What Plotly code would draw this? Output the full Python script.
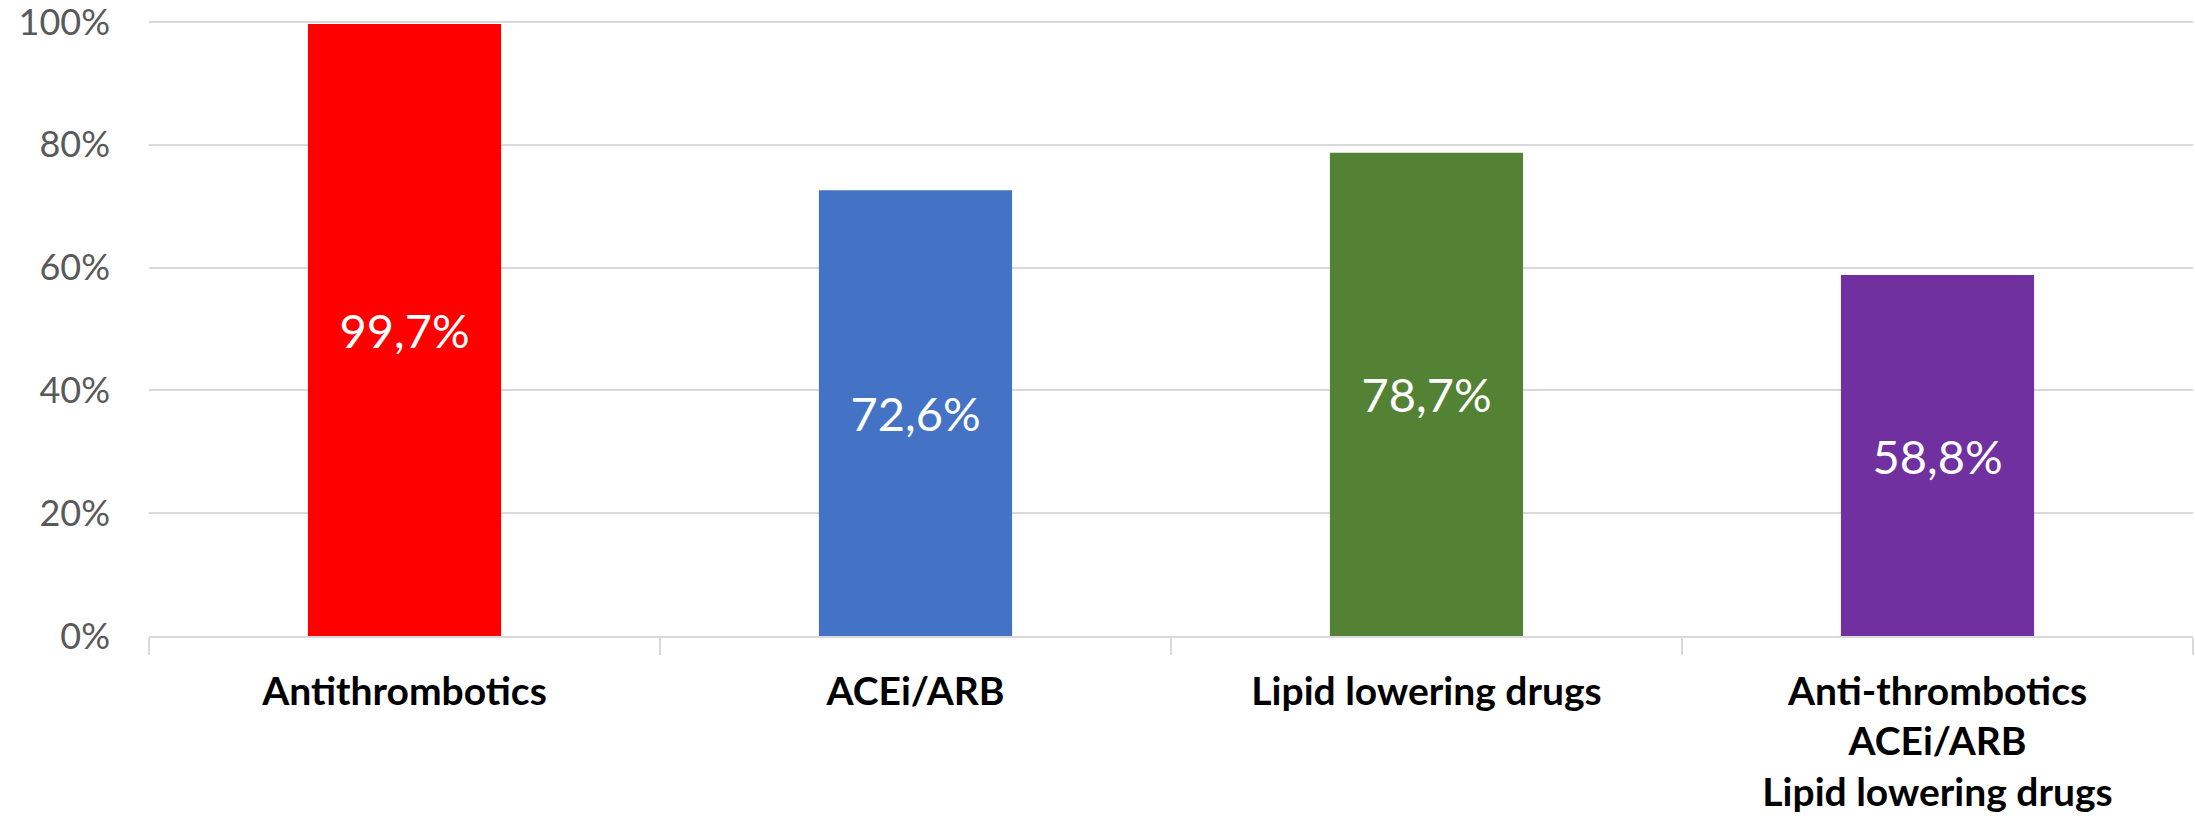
import plotly.graph_objects as go

# Share of patients on each drug class (%)
categories = [
    "Antithrombotics",
    "ACEi/ARB",
    "Lipid lowering drugs",
    "Anti-thrombotics<br>ACEi/ARB<br>Lipid lowering drugs",
]
values = [99.7, 72.6, 78.7, 58.8]
bar_colors = ["#FF0000", "#4472C4", "#548235", "#7030A0"]
y_ticks = [0, 20, 40, 60, 80, 100]
y_tick_labels = [f"{t}%" for t in y_ticks]

# Decimal comma labels, e.g. "99,7%"
labels = [f"{v:.1f}".replace(".", ",") + "%" for v in values]

fig = go.Figure(
    go.Bar(
        x=categories,
        y=values,
        marker=dict(color=bar_colors, line=dict(width=0)),
        text=labels,
        textposition="inside",
        insidetextanchor="middle",
        textangle=0,
        constraintext="none",
        textfont=dict(family="Lato", size=47, color="white"),
        hoverinfo="skip",
    )
)

grid = "#D9D9D9"
fig.update_layout(
    width=2195,
    height=816,
    margin=dict(l=149, r=2, t=19, b=180, autoexpand=False),
    paper_bgcolor="white",
    plot_bgcolor="white",
    bargap=0.622,
    showlegend=False,
    font=dict(family="Lato"),
)
fig.update_xaxes(
    type="category",
    automargin=False,
    showline=True,
    linecolor=grid,
    linewidth=1.5,
    ticks="outside",
    tickson="boundaries",
    ticklen=17,
    tickcolor=grid,
    tickwidth=1.5,
    ticklabelstandoff=20,
    tickfont=dict(family="Lato", size=39, color="black", weight="bold"),
    showgrid=False,
)
fig.update_yaxes(
    range=[0, 100.5],
    automargin=False,
    tickmode="array",
    tickvals=y_ticks,
    ticktext=y_tick_labels,
    ticklabeloverflow="allow",
    showgrid=True,
    gridcolor=grid,
    gridwidth=1.5,
    zeroline=False,
    showline=False,
    ticks="",
    ticklabelstandoff=38,
    tickfont=dict(family="Lato", size=36, color="#595959"),
)

fig.write_html("out.html")
